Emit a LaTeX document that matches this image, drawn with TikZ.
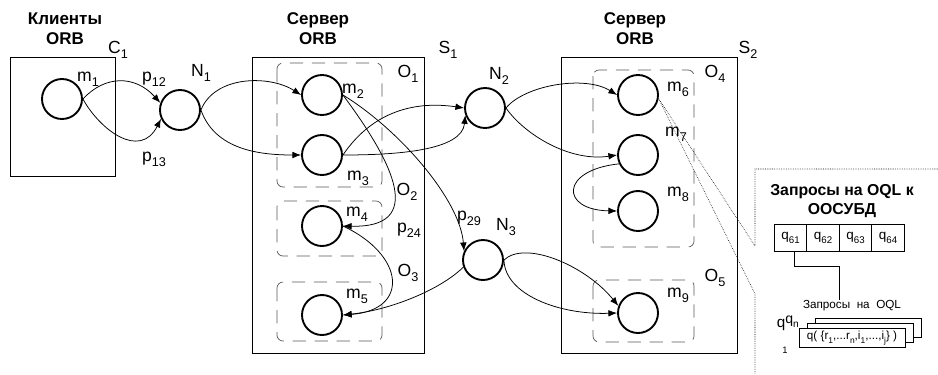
\documentclass[tikz,border=0pt]{standalone}
\usepackage{fontspec}
\usepackage{graphicx}
\setmainfont{Liberation Sans}
\usetikzlibrary{arrows.meta}
\newcommand{\lbl}[2]{#1\raisebox{-0.55ex}{\scalebox{0.72}{#2}}}

\begin{document}
\begin{tikzpicture}[x=0.3mm,y=-0.3mm,
  obj/.style={circle,draw,line width=1.6pt,minimum size=12mm,inner sep=0pt},
  grp/.style={draw=black!65,line width=0.6pt,dash pattern=on 4mm off 2.6mm,rounded corners=1.8mm},
  box/.style={draw,line width=0.7pt},
  lab/.style={inner sep=0pt,font=\fontsize{15}{17}\selectfont},
  head/.style={inner sep=0pt,align=center,font=\bfseries\fontsize{14.5}{17}\selectfont},
  link/.style={line width=0.65pt,-{Latex[length=2.6mm,width=2mm]}},
  callout/.style={densely dotted,line width=0.5pt},
  cell/.style={draw,line width=0.6pt,minimum width=9.75mm,minimum height=8.1mm,inner sep=0pt,font=\fontsize{11.5}{12}\selectfont},
  stk/.style={draw,fill=white,line width=0.6pt,minimum width=31.8mm,minimum height=5.7mm,inner sep=0pt,font=\fontsize{10}{11}\selectfont}]
\useasboundingbox (0,0) rectangle (938,374);

% clients and servers
\draw[box] (10,57) rectangle (115,176);
\draw[box] (252,57) rectangle (424,353);
\draw[box] (561,57) rectangle (737,353);
\node[head] (hc) at (65,29) {Клиенты\\ORB};
\node[head] (hs1) at (318,29) {Сервер\\ORB};
\node[head] (hs2) at (635,29) {Сервер\\ORB};
\node[lab] (lC1) at (118,50) {\lbl{C}{1}};
\node[lab] (lS1) at (448,50) {\lbl{S}{1}};
\node[lab] (lS2) at (748,50) {\lbl{S}{2}};

% object groups
\draw[grp] (277,63) rectangle (382,187);
\draw[grp] (277,201) rectangle (382,256);
\draw[grp] (277,282) rectangle (382,341);
\draw[grp] (593,70) rectangle (694,247);
\draw[grp] (593,280) rectangle (694,342);
\node[lab] (lO1) at (408,74) {\lbl{O}{1}};
\node[lab] (lO2) at (407,192) {\lbl{O}{2}};
\node[lab] (lO3) at (408,273) {\lbl{O}{3}};
\node[lab] (lO4) at (715,74) {\lbl{O}{4}};
\node[lab] (lO5) at (715,278) {\lbl{O}{5}};

\node[obj] (m1) at (62,99) {};
\node[obj] (N1) at (180,110) {};
\node[obj] (m2) at (322,95) {};
\node[obj] (m3) at (322,155) {};
\node[obj] (m4) at (322,226) {};
\node[obj] (m5) at (322,315) {};
\node[obj] (N2) at (485,108) {};
\node[obj] (N3) at (483,260) {};
\node[obj] (m6) at (638,95) {};
\node[obj] (m7) at (638,155) {};
\node[obj] (m8) at (638,211) {};
\node[obj] (m9) at (638,313) {};

\node[lab] (lm1) at (88,79) {\lbl{m}{1}};
\node[lab] (lm2) at (353,91) {\lbl{m}{2}};
\node[lab] (lm3) at (358,178) {\lbl{m}{3}};
\node[lab] (lm4) at (357,214) {\lbl{m}{4}};
\node[lab] (lm5) at (357,296) {\lbl{m}{5}};
\node[lab] (lm6) at (678,89) {\lbl{m}{6}};
\node[lab] (lm7) at (676,134) {\lbl{m}{7}};
\node[lab] (lm8) at (678,194) {\lbl{m}{8}};
\node[lab] (lm9) at (678,295) {\lbl{m}{9}};
\node[lab] (lN1) at (201,73) {\lbl{N}{1}};
\node[lab] (lN2) at (499,76) {\lbl{N}{2}};
\node[lab] (lN3) at (506,227) {\lbl{N}{3}};
\node[lab] (lp12) at (154,79) {\lbl{p}{12}};
\node[lab] (lp13) at (154,159) {\lbl{p}{13}};
\node[lab] (lp24) at (409,230) {\lbl{p}{24}};
\node[lab] (lp29) at (469,218) {\lbl{p}{29}};

% links
\draw[link] (m1.east) .. controls (105,75) and (135,75) .. (N1.160);
\draw[link] (m1.east) .. controls (100,130) and (140,160) .. (N1.205);
\draw[link] (N1.east) .. controls (215,75) and (270,75) .. (m2.west);
\draw[link] (N1.east) .. controls (215,150) and (260,155) .. (m3.west);
\draw[link] (m3.east) .. controls (370,115) and (410,100) .. (N2.west);
\draw[link] (m3.east) .. controls (400,155) and (462,150) .. (N2.200);
\draw[link] (m2.east) .. controls (395,165) and (425,228) .. (m4.east);
\draw[link] (m2.east) .. controls (400,130) and (460,200) .. (N3.155);
\draw[link] (m4.east) .. controls (405,255) and (410,310) .. (m5.east);
\draw[link,{Latex[length=2.6mm,width=2mm]}-] (m5.east) .. controls (390,310) and (440,290) .. (N3.200);
\draw[link] (N2.east) .. controls (525,85) and (585,75) .. (m6.west);
\draw[link] (N2.east) .. controls (525,135) and (570,162) .. (m7.west);
\draw[link] (m7.205) .. controls (560,170) and (560,210) .. (m8.west);
\draw[link] (N3.east) .. controls (525,240) and (585,265) .. (m9.160);
\draw[link] (N3.east) .. controls (505,295) and (560,315) .. (m9.west);

% callout
\draw[callout] (938,169) -- (755,169) -- (755,246) -- (m6.-10) -- (755,294) -- (755,374);
\node[align=center,inner sep=0pt,font=\bfseries\fontsize{13.5}{16}\selectfont] (ht) at (842,201) {Запросы на OQL к\\ООСУБД};
\foreach \i in {1,...,4}
  \node[cell] (q6\i) at (758+32.5*\i,237.5) {\lbl{q}{6\i}};
\node[inner sep=0pt,font=\fontsize{10}{12}\selectfont] (qlist) at (852,306) {Запросы\ \ на\ \ OQL};
\coordinate (qbend) at (839,266);
\draw[line width=0.6pt] ([xshift=1.3mm]q61.south) |- (qbend) -- (qbend |- qlist.north);
\node[stk] (st3) at (868,328) {};
\node[stk] (st2) at (860,332.5) {};
\node[stk] (st1) at (852,338) {q( \{\lbl{r}{1},...\lbl{r}{n},\lbl{i}{1},...,\lbl{i}{j}\} )};
\node[inner sep=0pt,font=\fontsize{13}{14}\selectfont] (qa) at (781,325) {q};
\node[inner sep=0pt,font=\fontsize{12}{13}\selectfont] (qn) at (792,322) {\lbl{q}{n}};
\node[inner sep=0pt,font=\fontsize{8}{9}\selectfont] (qone) at (785,350) {1};
\end{tikzpicture}
\end{document}
